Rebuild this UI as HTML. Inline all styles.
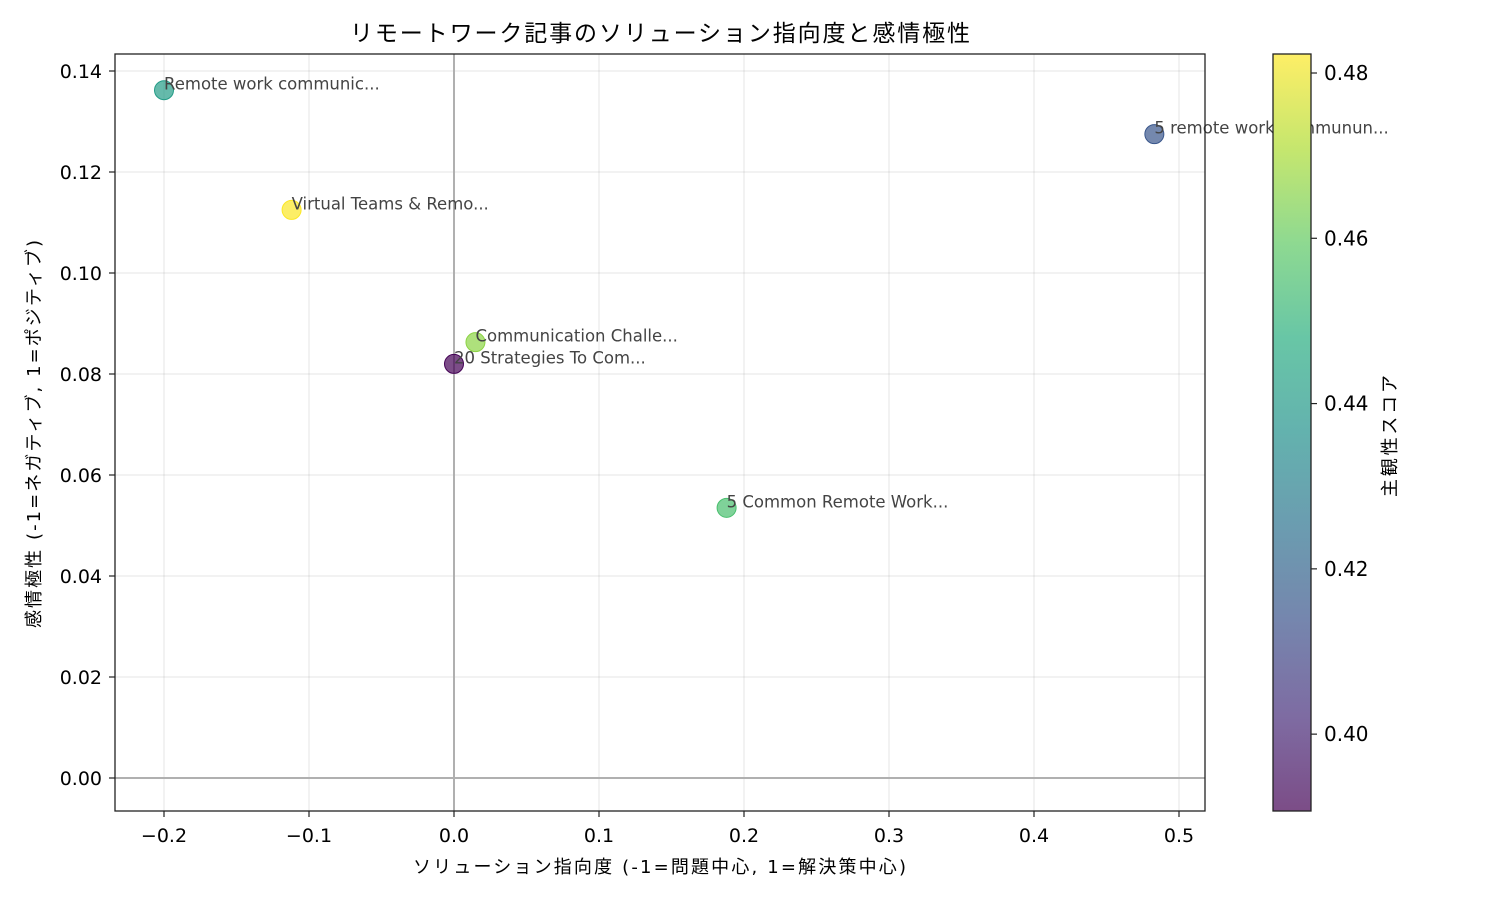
<!DOCTYPE html>
<html><head><meta charset="utf-8"><style>
body{margin:0;background:#fff}
svg text{font-family:"DejaVu Sans","Noto Sans CJK JP",sans-serif}
</style></head><body>
<svg id="chart" width="1500" height="900" xmlns="http://www.w3.org/2000/svg">
<defs>
<linearGradient id="vir" x1="0" y1="1" x2="0" y2="0">
<stop offset="0" stop-color="#440154"/><stop offset="0.125" stop-color="#472d7b"/>
<stop offset="0.25" stop-color="#3b528b"/><stop offset="0.375" stop-color="#2c728e"/>
<stop offset="0.5" stop-color="#21918c"/><stop offset="0.625" stop-color="#28ae80"/>
<stop offset="0.75" stop-color="#5ec962"/><stop offset="0.875" stop-color="#addc30"/>
<stop offset="1" stop-color="#fde725"/></linearGradient>
</defs>
<g id="grid"></g>
<g id="marks"></g>
<g id="labels"></g>
<rect x="115" y="54" width="1090" height="757" fill="none" stroke="#222" stroke-width="1.3"/>
<g id="axes"></g>
<rect x="1273" y="54" width="38" height="757" fill="#fff"/>
<rect x="1273" y="54" width="38" height="757" fill="url(#vir)" fill-opacity="0.7"/>
<rect x="1273" y="54" width="38" height="757" fill="none" stroke="#222" stroke-width="1.3"/>
<g id="cbticks"></g>
<text x="350" y="41" font-size="23" fill="#000" textLength="620" lengthAdjust="spacing">リモートワーク記事のソリューション指向度と感情極性</text>
<text x="413" y="873" font-size="18" fill="#000" textLength="493" lengthAdjust="spacing">ソリューション指向度 (-1=問題中心, 1=解決策中心)</text>
<text transform="translate(40,628) rotate(-90)" font-size="18" fill="#000" textLength="388" lengthAdjust="spacing">感情極性 (-1=ネガティブ, 1=ポジティブ)</text>
<text transform="translate(1396,497) rotate(-90)" font-size="18" fill="#000" textLength="122" lengthAdjust="spacing">主観性スコア</text>
</svg>
<script>
const labels=["Remote work communic...","5 remote work communun...","Virtual Teams & Remo...","Communication Challe...","20 Strategies To Com...","5 Common Remote Work..."];
const solution=[-0.2,0.483,-0.112,0.0148,0.0,0.188];
const sentiment=[0.1362,0.1275,0.1125,0.0863,0.082,0.0535];
const subjectivity=[0.441,0.415,0.482,0.466,0.391,0.455];
const xTicks=[-0.2,-0.1,0,0.1,0.2,0.3,0.4,0.5];
const xTickLabels=["−0.2","−0.1","0.0","0.1","0.2","0.3","0.4","0.5"];
const yTicks=[0,0.02,0.04,0.06,0.08,0.10,0.12,0.14];
const yTickLabels=["0.00","0.02","0.04","0.06","0.08","0.10","0.12","0.14"];
const cTicks=[0.40,0.42,0.44,0.46,0.48];
const cTickLabels=["0.40","0.42","0.44","0.46","0.48"];
const cMin=0.3907,cMax=0.4823;

const NS="http://www.w3.org/2000/svg";
const X=v=>164+(v+0.2)*1450;
const Y=v=>778-v*5050;
const C=v=>811-(v-cMin)/(cMax-cMin)*757;
const vir=[[68,1,84],[71,45,123],[59,82,139],[44,114,142],[33,145,140],[40,174,128],[94,201,98],[173,220,48],[253,231,37]];
function viridis(t){t=Math.max(0,Math.min(1,t));const s=t*8,i=Math.min(7,Math.floor(s)),f=s-i;const a=vir[i],b=vir[i+1];return `rgb(${a.map((c,k)=>Math.round(c+(b[k]-c)*f)).join(',')})`;}
function mk(tag,attrs,parent,txt){const e=document.createElementNS(NS,tag);for(const k in attrs)e.setAttribute(k,attrs[k]);if(txt!=null)e.textContent=txt;document.getElementById(parent).appendChild(e);return e;}
xTicks.forEach((v,i)=>{
  const l=mk('line',{x1:X(v),x2:X(v),y1:54,y2:811,stroke:'#000','stroke-opacity':0.1,'stroke-width':1},'grid');
  
  
  const t=mk('line',{x1:X(v),x2:X(v),y1:811,y2:817,stroke:'#222','stroke-width':1.2},'axes');
  
  
  const tx=mk('text',{x:X(v),y:842,'text-anchor':'middle','font-size':19,fill:'#000'},'axes',xTickLabels[i]);
  
  
});
yTicks.forEach((v,i)=>{
  const l=mk('line',{x1:115,x2:1205,y1:Y(v),y2:Y(v),stroke:'#000','stroke-opacity':0.1,'stroke-width':1},'grid');
  
  
  const t=mk('line',{x1:109,x2:115,y1:Y(v),y2:Y(v),stroke:'#222','stroke-width':1.2},'axes');
  
  
  const tx=mk('text',{x:102,y:Y(v)+7,'text-anchor':'end','font-size':19,fill:'#000'},'axes',yTickLabels[i]);
  
  
});
const z1=mk('line',{x1:X(0),x2:X(0),y1:54,y2:811,stroke:'#b0b0b0','stroke-width':2},'grid');


const z2=mk('line',{x1:115,x2:1205,y1:Y(0),y2:Y(0),stroke:'#b0b0b0','stroke-width':2},'grid');


labels.forEach((lab,i)=>{
  const col=viridis((subjectivity[i]-cMin)/(cMax-cMin));
  const c=mk('circle',{cx:X(solution[i]),cy:Y(sentiment[i]),r:9.5,fill:col,'fill-opacity':0.7,stroke:col,'stroke-width':1},'marks');
  
  
  const t=mk('text',{x:X(solution[i]),y:Y(sentiment[i])-0.5,'font-size':16.5,fill:'#444'},'labels',lab);
  
  
});
cTicks.forEach((v,i)=>{
  const t=mk('line',{x1:1311,x2:1317,y1:C(v),y2:C(v),stroke:'#222','stroke-width':1.2},'cbticks');
  
  
  const tx=mk('text',{x:1324,y:C(v)+7,'font-size':20,fill:'#000'},'cbticks',cTickLabels[i]);
  
  
});
</script>
</body></html>
